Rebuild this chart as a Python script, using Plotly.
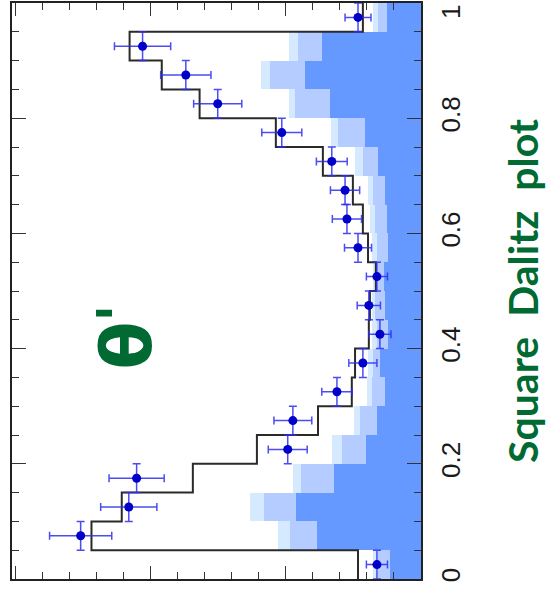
import numpy as np
import plotly.graph_objects as go

# theta' binning: 20 bins of width 0.05 on [0, 1]
bin_edges = np.round(np.arange(0.0, 1.0001, 0.05), 3)
bin_centers = (bin_edges[:-1] + bin_edges[1:]) / 2
bin_width = 0.05

# stacked background components (events per bin)
continuum = [11.5, 38.5, 46.3, 32.2, 20.4, 16.3, 13.3, 15.2, 12.2, 13.3,
             13.7, 12.2, 12.6, 13.3, 15.9, 20.7, 33.7, 43.0, 36.7, 12.6]
bbkg_a = [4.4, 10.0, 11.9, 12.2, 8.9, 6.3, 4.8, 2.6, 4.1, 3.7,
          2.2, 4.1, 4.4, 4.4, 5.6, 10.0, 13.0, 13.0, 8.9, 3.3]
bbkg_b = [1.9, 4.4, 5.2, 3.0, 3.7, 2.2, 1.9, 1.9, 1.9, 1.1,
          1.9, 1.9, 1.9, 1.9, 3.0, 2.6, 2.2, 3.3, 3.3, 1.9]

# total fit model
model_total = [23.3, 121.9, 110.7, 84.4, 60.7, 38.1, 25.6, 24.4, 19.3, 18.9,
               16.7, 19.6, 21.5, 25.2, 36.3, 53.7, 81.9, 95.9, 107.8, 21.5]

# data
data_counts = [16.3, 125.9, 108.1, 105.2, 49.3, 47.4, 31.1, 21.5, 15.2, 19.3,
               16.3, 23.3, 27.4, 28.1, 33.0, 51.5, 75.2, 87.0, 103.0, 23.3]
data_errors = [3.9, 11.5, 10.4, 10.2, 7.2, 7.0, 5.6, 5.2, 4.1, 4.3,
               3.9, 5.0, 5.4, 5.4, 5.7, 7.4, 8.9, 9.3, 10.4, 4.8]

tick_values = [0, 0.2, 0.4, 0.6, 0.8, 1]
tick_labels = ["0", "0.2", "0.4", "0.6", "0.8", "1"]

GREEN = "#006a32"
TICK_FONT = dict(family="Liberation Sans", size=26, color="#1a1a1a")

fig = go.Figure()

for vals, col in [(continuum, "rgb(102,153,255)"),
                  (bbkg_a, "rgb(180,204,255)"),
                  (bbkg_b, "rgb(214,234,255)")]:
    fig.add_trace(go.Bar(
        x=vals, y=bin_centers, width=bin_width, orientation="h",
        marker=dict(color=col, line=dict(width=0)),
        showlegend=False, hoverinfo="skip",
    ))

# step outline of the total model
step_x, step_y = [], []
for i, c in enumerate(model_total):
    step_x += [c, c]
    step_y += [bin_edges[i], bin_edges[i + 1]]
fig.add_trace(go.Scatter(
    x=step_x, y=step_y, mode="lines",
    line=dict(color="#2a2a2a", width=2),
    showlegend=False, hoverinfo="skip",
))

fig.add_trace(go.Scatter(
    x=data_counts, y=bin_centers, mode="markers",
    marker=dict(color="#0000c8", size=9),
    error_x=dict(type="data", array=data_errors, color="rgba(45,45,240,0.85)",
                 thickness=1.5, width=4),
    error_y=dict(type="constant", value=bin_width / 2, color="rgba(45,45,240,0.85)",
                 thickness=1.5, width=4),
    showlegend=False,
))

axis_common = dict(
    showline=True, linecolor="#222222", linewidth=1.5, mirror="allticks",
    ticks="inside", tickcolor="#333333", tickwidth=1.2, showgrid=False,
    zeroline=False,
)

fig.update_xaxes(
    range=[151.3, 0], tick0=0, dtick=50, ticklen=13, showticklabels=False,
    minor=dict(dtick=10, ticks="inside", ticklen=7, tickcolor="#333333",
               tickwidth=1.2, showgrid=False),
    **axis_common,
)
fig.update_yaxes(
    range=[0, 1], side="right", tickvals=tick_values[:-1], ticktext=tick_labels[:-1],
    ticklen=14, tickangle=-90, ticklabelstandoff=6, tickfont=TICK_FONT,
    minor=dict(tickvals=list(bin_edges), ticks="inside", ticklen=7,
               tickcolor="#333333", tickwidth=1.2, showgrid=False),
    **axis_common,
)

pw, ph = 550 - 12 - 129, 593 - 1 - 14

# the top label sits right at the page edge, kept inside it
fig.add_annotation(
    x=(451 - 12) / pw, y=tick_values[-1], xref="paper", yref="y",
    text=tick_labels[-1], showarrow=False, textangle=-90,
    xanchor="center", yanchor="top", font=TICK_FONT,
)

# theta with its prime drawn as two pieces so the prime sits close
fig.add_annotation(
    x=108.8, y=0.405, xref="x", yref="y", text="<b>θ</b>", showarrow=False,
    textangle=-90, xanchor="center", yanchor="middle",
    font=dict(family="DejaVu Sans", size=70, color=GREEN),
)
fig.add_annotation(
    x=111.7, y=0.462, xref="x", yref="y", text="<b>'</b>", showarrow=False,
    textangle=-90, xanchor="center", yanchor="middle",
    font=dict(family="DejaVu Sans", size=58, color=GREEN),
)
fig.add_annotation(
    x=(522 - 12) / pw, y=(593 - 14 - 290) / ph, xref="paper", yref="paper",
    text="<b>Square  Dalitz  plot</b>", showarrow=False, textangle=-90,
    xanchor="center", yanchor="middle",
    font=dict(family="Lato", size=41, color=GREEN),
)

fig.update_layout(
    width=550, height=593, barmode="stack", bargap=0,
    margin=dict(l=12, r=129, t=1, b=14),
    paper_bgcolor="white", plot_bgcolor="white",
)

fig.write_html("out.html")
